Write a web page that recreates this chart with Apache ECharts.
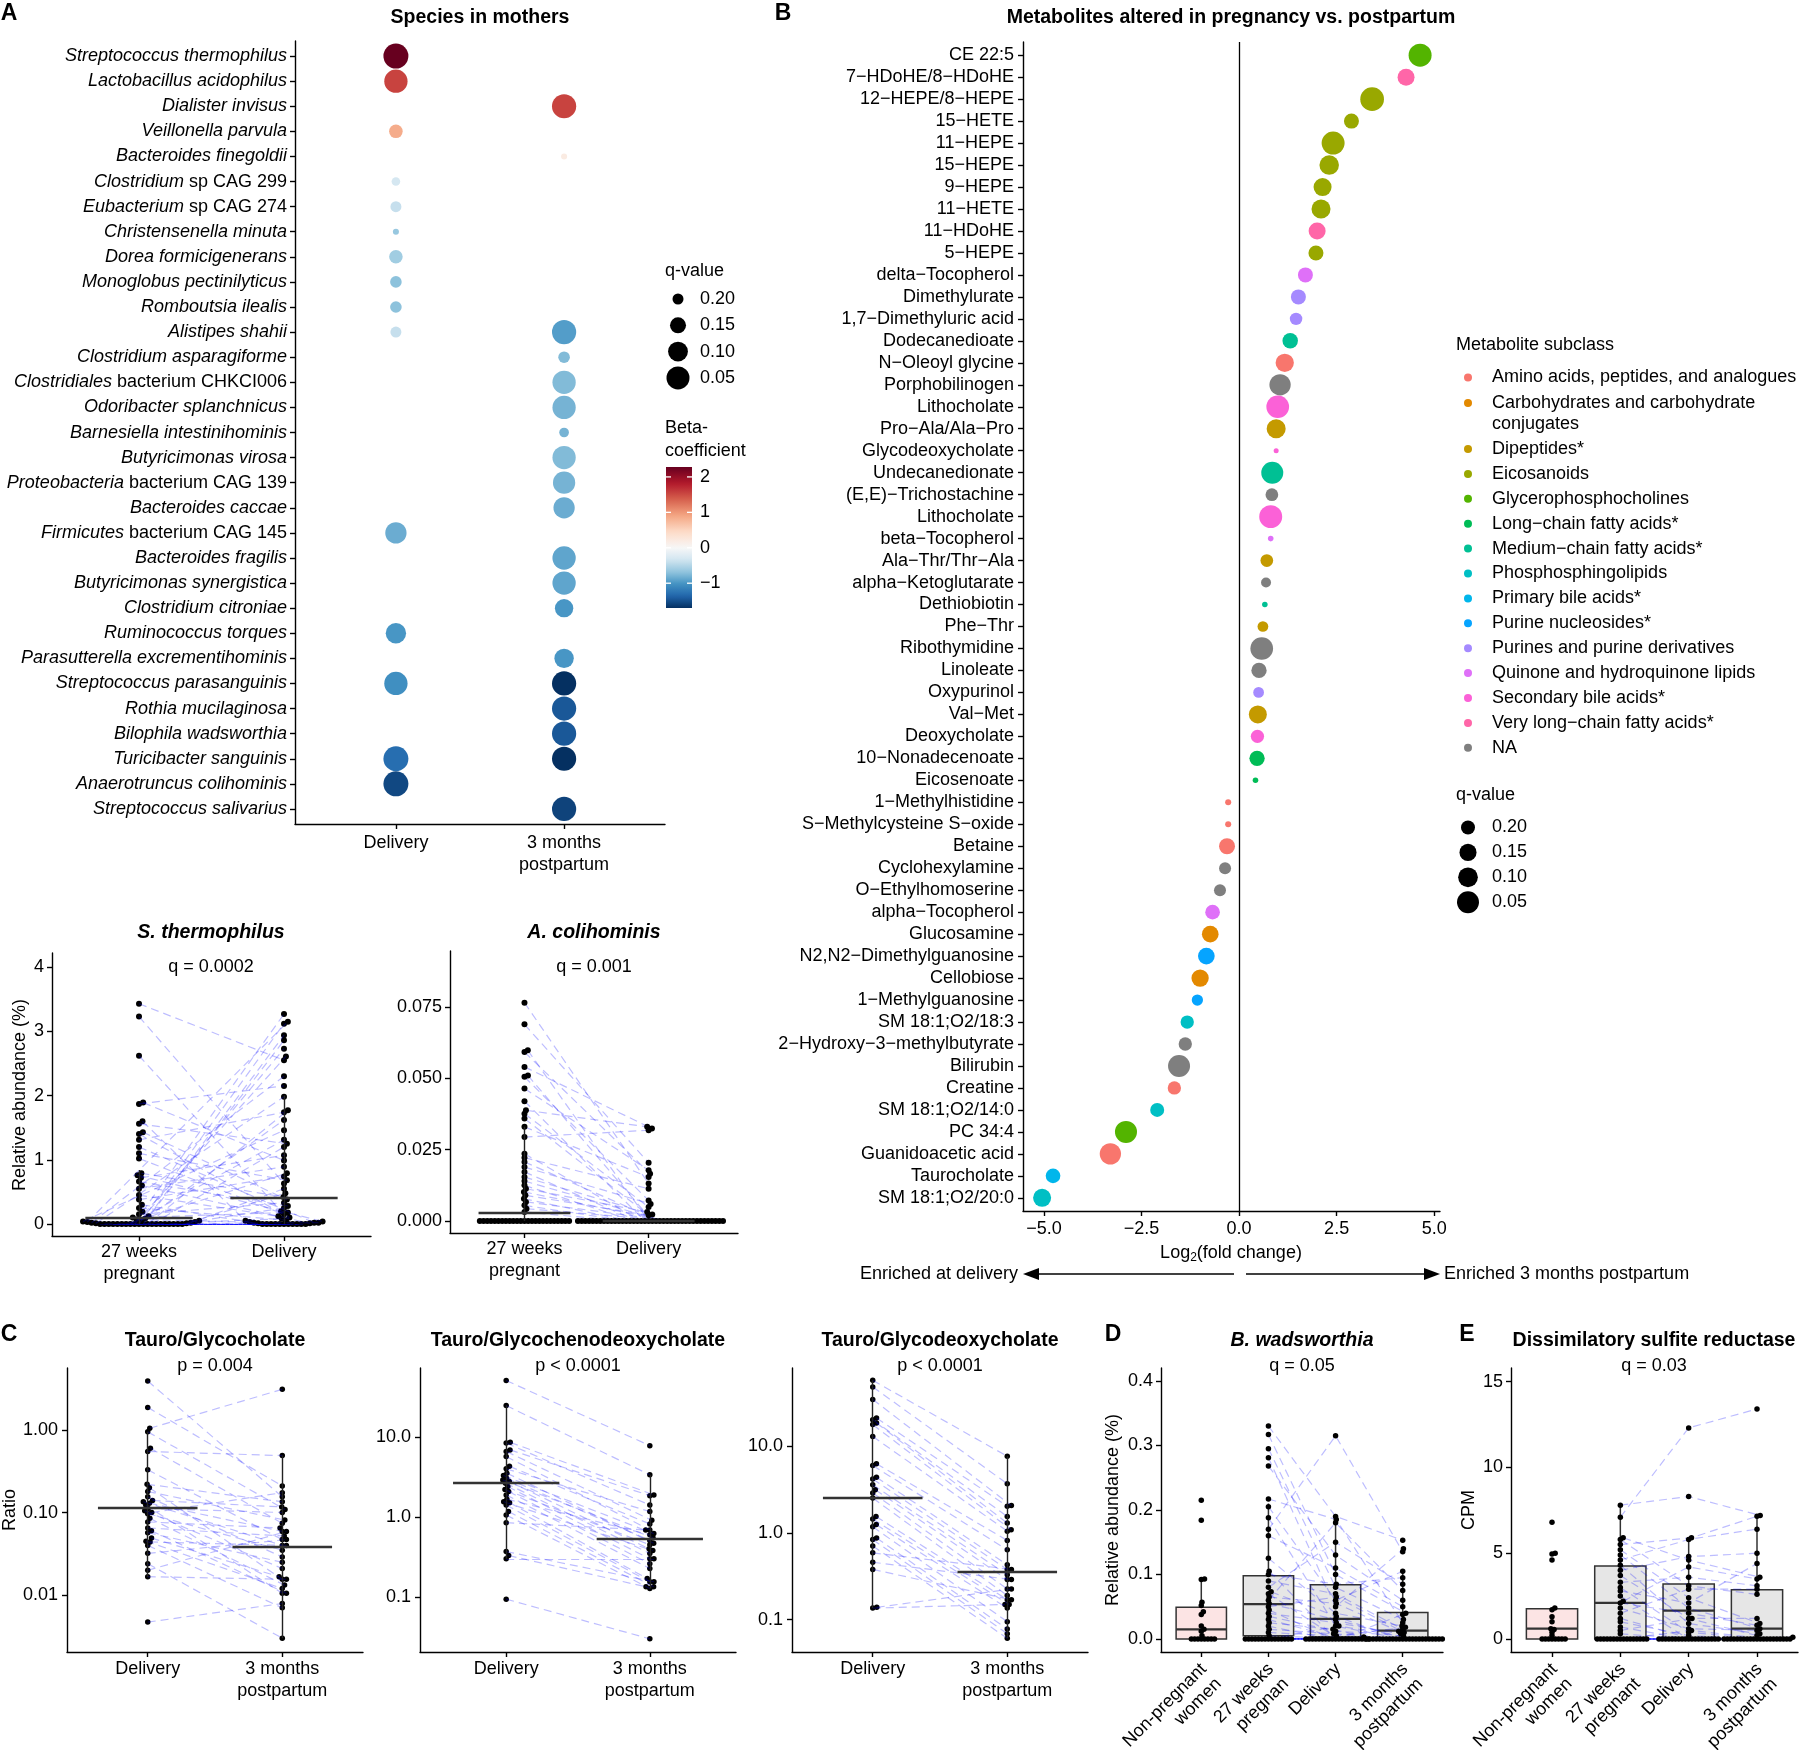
<!DOCTYPE html>
<html><head><meta charset="utf-8">
<script src="https://cdn.jsdelivr.net/npm/echarts@6/dist/echarts.min.js"></script>
<style>html,body{margin:0;padding:0;background:#fff}#c{width:1800px;height:1750px}</style>
</head><body><div id="c"></div><script>
// ---------------- DATA ----------------
// Panel A: species dot plot
const speciesItalic = ['Streptococcus thermophilus','Lactobacillus acidophilus','Dialister invisus','Veillonella parvula','Bacteroides finegoldii','Clostridium','Eubacterium','Christensenella minuta','Dorea formicigenerans','Monoglobus pectinilyticus','Romboutsia ilealis','Alistipes shahii','Clostridium asparagiforme','Clostridiales','Odoribacter splanchnicus','Barnesiella intestinihominis','Butyricimonas virosa','Proteobacteria','Bacteroides caccae','Firmicutes','Bacteroides fragilis','Butyricimonas synergistica','Clostridium citroniae','Ruminococcus torques','Parasutterella excrementihominis','Streptococcus parasanguinis','Rothia mucilaginosa','Bilophila wadsworthia','Turicibacter sanguinis','Anaerotruncus colihominis','Streptococcus salivarius'];
const speciesRoman = ['','','','','',' sp CAG 299',' sp CAG 274','','','','','','',' bacterium CHKCI006','','','',' bacterium CAG 139','',' bacterium CAG 145','','','','','','','','','','',''];
const speciesDeliveryBeta = [2.28,1.55,null,0.85,null,-0.3,-0.4,-0.65,-0.6,-0.7,-0.7,-0.4,null,null,null,null,null,null,null,-0.85,null,null,null,-1.0,null,-1.05,null,null,-1.3,-1.55,null];
const speciesDeliveryQ = [0.015,0.045,null,0.177,null,0.217,0.2,0.231,0.177,0.195,0.195,0.2,null,null,null,null,null,null,null,0.078,null,null,null,0.092,null,0.045,null,null,0.015,0.015,null];
const speciesPostBeta = [null,null,1.55,null,0.2,null,null,null,null,null,null,-0.95,-0.75,-0.75,-0.8,-0.8,-0.75,-0.8,-0.85,null,-0.9,-0.9,-1.0,null,-1.0,-1.7,-1.45,-1.45,-1.7,null,-1.58];
const speciesPostQ = [null,null,0.029,null,0.231,null,null,null,null,null,null,0.029,0.195,0.045,0.045,0.21,0.045,0.062,0.078,null,0.045,0.045,0.12,null,0.106,0.029,0.029,0.029,0.029,null,0.029];
const timepointsA = ['Delivery','3 months\npostpartum'];
const qLegendValues = [0.20, 0.15, 0.10, 0.05];
const betaTicks = [2, 1, 0, -1];

// Panel A bottom: S. thermophilus (paired, index-aligned)
const st27 = [3.43,3.23,2.62,1.89,1.87,1.6,1.56,1.43,1.4,1.31,1.2,1.1,1.02,0.79,0.76,0.72,0.66,0.6,0.55,0.45,0.38,0.3,0.25,0.19,0.15,0.12,0.1,0.08,0.07,0.06,0.05,0.04,0.03,0.03,0.02,0.02,0.01,0.01,0,0,0,0,0,0,0,0,0,0,0,0,0,0,0,0,0,0,0,0];
const stDel = [2.55,0.63,0.2,0.99,2.15,0.05,1.25,0.38,0.1,1.74,0.02,0.68,0.15,0.42,0.04,1.07,0.28,0.01,0.89,0.12,0.74,0.02,0.06,3.27,0.33,2.94,0.18,1.62,0.03,2.73,0.25,1.46,3.15,0.08,2.3,0.55,1.98,0.48,3.12,2.86,2.61,1.77,1.31,1.2,0.79,0,0,0,0,0,0,0,0,0.01,0.02,0,0,0];
const stMedian = [0.1, 0.41];
const stRange = [[0, 0.84], [0, 2.0]];
const stTicks = [0,1,2,3,4];
// A. colihominis
const ac27 = [0.0765,0.0689,0.0598,0.0592,0.054,0.051,0.0505,0.0464,0.042,0.0388,0.0376,0.0359,0.033,0.0294,0.0236,0.0222,0.0207,0.0189,0.0172,0.0154,0.014,0.0125,0.0113,0.0102,0.009,0.0078,0.0067,0.0055,0.0043,0.0032,0,0,0,0,0,0,0,0,0,0,0,0,0,0,0,0,0,0,0,0,0,0,0,0,0];
const acDel = [0.0131,0.0204,0,0.0166,0.0324,0,0.0072,0.0178,0,0.033,0.0049,0,0.0154,0.0318,0,0.0113,0,0.006,0,0.0023,0,0,0.0032,0,0.002,0,0,0,0,0,0,0,0,0,0,0,0,0,0,0,0,0,0,0,0,0,0,0,0,0,0,0,0,0,0];
const acMedian = [0.0028, 0];
const acRange = [[0, 0.033], [0, 0]];
const acTicks = [0, 0.025, 0.05, 0.075];
const pairLabels = ['27 weeks\npregnant', 'Delivery'];

// Panel B: metabolites
const metNames = ['CE 22:5','7−HDoHE/8−HDoHE','12−HEPE/8−HEPE','15−HETE','11−HEPE','15−HEPE','9−HEPE','11−HETE','11−HDoHE','5−HEPE','delta−Tocopherol','Dimethylurate','1,7−Dimethyluric acid','Dodecanedioate','N−Oleoyl glycine','Porphobilinogen','Lithocholate','Pro−Ala/Ala−Pro','Glycodeoxycholate','Undecanedionate','(E,E)−Trichostachine','Lithocholate','beta−Tocopherol','Ala−Thr/Thr−Ala','alpha−Ketoglutarate','Dethiobiotin','Phe−Thr','Ribothymidine','Linoleate','Oxypurinol','Val−Met','Deoxycholate','10−Nonadecenoate','Eicosenoate','1−Methylhistidine','S−Methylcysteine S−oxide','Betaine','Cyclohexylamine','O−Ethylhomoserine','alpha−Tocopherol','Glucosamine','N2,N2−Dimethylguanosine','Cellobiose','1−Methylguanosine','SM 18:1;O2/18:3','2−Hydroxy−3−methylbutyrate','Bilirubin','Creatine','SM 18:1;O2/14:0','PC 34:4','Guanidoacetic acid','Taurocholate','SM 18:1;O2/20:0'];
const metFC = [4.64,4.28,3.41,2.88,2.41,2.31,2.14,2.1,2.0,1.97,1.7,1.52,1.46,1.31,1.17,1.05,0.99,0.95,0.95,0.85,0.84,0.81,0.81,0.71,0.69,0.66,0.61,0.58,0.51,0.5,0.48,0.47,0.46,0.42,-0.28,-0.28,-0.31,-0.36,-0.49,-0.68,-0.74,-0.84,-1.0,-1.07,-1.33,-1.38,-1.54,-1.66,-2.1,-2.9,-3.3,-4.77,-5.05];
const metQ = [0.027,0.152,0.01,0.185,0.027,0.104,0.133,0.114,0.152,0.185,0.185,0.185,0.221,0.177,0.128,0.066,0.034,0.114,0.289,0.05,0.218,0.027,0.286,0.218,0.25,0.286,0.242,0.034,0.18,0.242,0.133,0.21,0.18,0.286,0.283,0.283,0.169,0.227,0.227,0.19,0.157,0.157,0.146,0.236,0.21,0.21,0.05,0.21,0.2,0.05,0.066,0.19,0.133];
const metClass = [4,13,3,3,3,3,3,3,13,3,11,10,10,6,0,14,12,2,12,6,14,12,11,2,14,6,2,14,14,10,2,12,5,5,0,0,0,14,14,11,1,9,1,9,7,14,14,0,7,4,0,8,7];
const subclassNames = ['Amino acids, peptides, and analogues','Carbohydrates and carbohydrate\nconjugates','Dipeptides*','Eicosanoids','Glycerophosphocholines','Long−chain fatty acids*','Medium−chain fatty acids*','Phosphosphingolipids','Primary bile acids*','Purine nucleosides*','Purines and purine derivatives','Quinone and hydroquinone lipids','Secondary bile acids*','Very long−chain fatty acids*','NA'];
const fcTicks = [-5, -2.5, 0, 2.5, 5];

// Panel C: bile acid ratios (paired)
const c1Del = [3.93,1.88,1.05,0.95,0.6,0.55,0.33,0.22,0.2,0.18,0.155,0.14,0.135,0.13,0.123,0.112,0.105,0.1,0.097,0.085,0.077,0.065,0.06,0.057,0.049,0.045,0.044,0.04,0.032,0.024,0.02,0.0167,0.0047];
const c1Post = [0.155,0.21,3.11,0.109,0.074,0.49,0.047,0.135,0.0155,0.081,0.029,0.117,0.04,0.059,0.0105,0.1,0.021,0.174,0.035,0.0132,0.065,0.052,0.0105,0.025,0.0167,0.012,0.04,0.007,0.047,0.003,0.059,0.0155,0.0079];
const c1Median = [0.115, 0.038];
const c1Range = [[0.0167, 0.95], [0.003, 0.49]];
const c2Del = [50.9,24.7,8.58,8.4,6.9,6.6,5.7,4.3,4.0,3.53,3.3,3.05,2.78,2.65,2.4,2.08,1.89,1.67,1.51,1.41,1.17,1.06,0.85,0.37,0.33,0.30,0.094,2.9,2.2,1.55];
const c2Post = [7.8,3.37,1.89,1.41,1.85,0.91,0.69,0.82,1.17,0.47,0.62,0.51,0.40,0.35,0.3,0.26,0.227,0.6,0.17,0.155,0.134,0.128,0.69,0.155,0.134,0.3,0.03,0.55,0.45,0.38];
const c2Median = [2.65, 0.535];
const c2Range = [[0.3, 24.7], [0.128, 3.37]];
const c3Del = [57.6,48.4,34.7,21.2,20.3,18.6,17.8,13.0,6.3,6.0,4.4,4.2,3.6,3.16,2.9,2.53,1.55,1.45,1.25,1.18,0.875,0.84,0.71,0.59,0.46,0.38,0.139,0.136];
const c3Post = [7.67,3.7,2.07,2.04,1.55,1.3,1.09,1.05,0.82,0.64,0.43,0.38,0.33,0.29,0.226,0.19,0.17,0.15,0.136,0.095,0.078,0.069,0.061,0.38,0.29,0.17,0.226,0.15];
const c3Median = [2.53, 0.36];
const c3Range = [[0.136, 57.6], [0.061, 7.67]];
const cLabels = ['Delivery', '3 months\npostpartum'];

// Panel D: B. wadsworthia
const dNon = [0.215,0.184,0.093,0.092,0.057,0.052,0.042,0.038,0.02,0.015,0.012,0.005,0,0,0,0,0,0,0,0];
const d27 = [0.33,0.317,0.295,0.281,0.268,0.217,0.205,0.188,0.17,0.16,0.125,0.105,0.1,0.09,0.08,0.073,0.07,0.065,0.06,0.055,0.05,0.045,0.04,0.035,0.03,0.025,0.02,0.015,0.01,0.005,0,0,0,0,0,0,0,0,0,0,0,0,0,0,0];
const dDel = [0.19,0.1,0.08,0.05,0.13,0.185,0.06,0.02,0.315,0.11,0.04,0,0.085,0.07,0.15,0.035,0,0.055,0.18,0.03,0.065,0,0.025,0.012,0,0.015,0,0.008,0.005,0,0.02,0,0,0,0,0,0,0,0,0,0,0,0,0,0];
const d3m = [0.153,0.04,0.03,0.14,0.06,0.025,0.105,0,0.135,0.05,0.02,0,0.095,0.015,0.085,0,0.038,0.012,0.075,0,0.01,0,0.008,0.005,0,0.003,0,0,0.018,0,0,0,0,0,0,0,0,0,0,0,0,0,0,0,0];
const dBox = [[0,0.015,0.049,0,0.093],[0.005,0.054,0.098,0,0.21],[0.003,0.031,0.084,0,0.185],[0,0.013,0.041,0,0.105]]; // q1, median, q3, low, high
const dTicks = [0,0.1,0.2,0.3,0.4];
const dLabels = ['Non-pregnant\nwomen','27 weeks\npregnan','Delivery','3 months\npostpartum'];
// Panel E: dissimilatory sulfite reductase
const eNon = [6.8,5.0,4.95,4.6,1.8,1.7,1.3,1.0,0.6,0.55,0.4,0.2,0,0,0,0,0,0,0,0];
const e27 = [7.8,7.1,5.9,5.8,5.5,5.2,4.9,4.6,4.3,4.0,3.7,3.3,3.0,2.8,2.5,2.2,2.1,1.8,1.5,1.2,1.0,0.7,0.5,0.3,0,0,0,0,0,0,0,0,0,0,0,0,0,0,0,0];
const eDel = [8.3,12.3,4.6,3.1,5.9,2.4,1.8,5.8,0.9,4.8,1.2,3.6,0.4,2.1,0,4.2,1.5,0.6,2.9,0,0.2,0,1.2,0,0.5,0,0,0,0,0,0,0,0,0,0,0,0,0,0,0];
const e3m = [7.2,13.4,3.6,2.6,7.15,0.9,0.6,6.4,0.3,5.0,0.2,3.1,0,4.4,0,3.5,0.8,0.5,2.9,0.1,0,0,1.2,0,0,0,0,0,0,0,0,0,0,0,0,0,0,0,0,0];
const eBox = [[0,0.6,1.76,0,1.8],[0,2.1,4.26,0,7.8],[0,1.65,3.2,0,5.9],[0,0.6,2.87,0,7.13]];
const eTicks = [0,5,10,15];
const eLabels = ['Non-pregnant\nwomen','27 weeks\npregnant','Delivery','3 months\npostpartum'];

// ---------------- STYLE / HELPERS ----------------
const FONT = "'Liberation Sans', Arial, Helvetica, sans-serif";
const BLACK = '#000';
const PALETTE = ['#F8766D','#E38900','#C49A00','#99A800','#53B400','#00BC56','#00C094','#00BFC4','#00B6EB','#06A4FF','#A58AFF','#DF70F8','#FB61D7','#FF66A8','#7F7F7F'];
const RED = ['#F7F7F7','#FDDBC7','#F4A582','#D6604D','#B2182B','#67001F'];
const BLUE = ['#F7F7F7','#D1E5F0','#92C5DE','#4393C3','#2166AC','#053061'];
const allBeta = speciesDeliveryBeta.concat(speciesPostBeta).filter(v => v != null);
const betaMin = Math.min.apply(null, allBeta), betaMax = Math.max.apply(null, allBeta);
function hex2rgb(h){ return [parseInt(h.slice(1,3),16), parseInt(h.slice(3,5),16), parseInt(h.slice(5,7),16)]; }
function mix(a, b, t){ const A = hex2rgb(a), B = hex2rgb(b); return 'rgb(' + A.map((v,i)=>Math.round(v+(B[i]-v)*t)).join(',') + ')'; }
function rdbu(b){ const arr = b >= 0 ? RED : BLUE; const t = Math.min(1, Math.abs(b) / (b >= 0 ? betaMax : -betaMin)); const s = t*5; const k = Math.min(4, Math.floor(s)); return mix(arr[k], arr[k+1], s-k); }
const sizeA = q => Math.sqrt(Math.max(16, 665 - 2720*q));
const sizeB = q => Math.sqrt(Math.max(16, 580 - 1920*q));
const L = v => Math.log10(v);

const grids = [], xAxes = [], yAxes = [], series = [], graphics = [];
function addGrid(l, t, w, h){ grids.push({left:l, top:t, width:w, height:h, containLabel:false}); return grids.length-1; }
function mkAxis(dir, gi, min, max, ticks, fmt, o){
  o = o || {};
  const a = { type:'value', gridIndex:gi, min:min, max:max, inverse:!!o.inverse,
    axisLine:{show:true, onZero:false, lineStyle:{color:BLACK, width:1.4}},
    axisTick:{show:true, inside:false, length:5, customValues:ticks, lineStyle:{color:BLACK, width:1.4}},
    axisLabel:{show:!o.noLabel, customValues:ticks, formatter:fmt, color:BLACK, fontSize:18, fontFamily:FONT,
      margin:(o.margin==null?8:o.margin), lineHeight:o.lineHeight||22, rotate:o.rotate||0},
    splitLine:{show:false}, splitArea:{show:false} };
  if (o.rich) a.axisLabel.rich = o.rich;
  const arr = dir === 'x' ? xAxes : yAxes; arr.push(a); return arr.length-1;
}
function text(x, y, s, o){
  o = o || {};
  const st = { text:s, fill:BLACK, fontSize:o.size||18, fontFamily:FONT, fontWeight:o.weight||'normal', fontStyle:o.style||'normal', align:o.align||'center', verticalAlign:o.valign||'middle' };
  if (o.lineHeight) st.lineHeight = o.lineHeight;
  if (o.rich) st.rich = o.rich;
  graphics.push({ type:'text', x:x, y:y, rotation:o.rotation||0, silent:true, z:100, style:st });
}
function pts(xi, yi, data, size, z){ series.push({type:'scatter', xAxisIndex:xi, yAxisIndex:yi, data:data, symbolSize:size, itemStyle:{color:BLACK, opacity:1}, silent:true, animation:false, clip:false, z:z||4}); }
function segs(xi, yi, coords, style, z, poly){ series.push({type:'lines', coordinateSystem:'cartesian2d', xAxisIndex:xi, yAxisIndex:yi, polyline:!!poly, data:coords.map(c=>({coords:c})), lineStyle:style, silent:true, animation:false, z:z||3}); }
const DASH = {color:'rgba(0,0,255,0.26)', width:1.2, type:[8,5], opacity:1};
const SUM = {color:'#333', width:2.4, type:'solid', opacity:1};
const WHISK = {color:'#222', width:1.4, type:'solid', opacity:1};

// beeswarm layout (deterministic): returns pixel offsets
function swarm(yPix, dot, gap){
  const minD = dot*gap, n = yPix.length;
  const order = yPix.map((v,i)=>i).sort((a,b)=> (yPix[a]-yPix[b]) || (a-b));
  const placed = [], xs = new Array(n);
  for (const i of order){
    const y = yPix[i]; const cands = [0];
    for (const p of placed){ const dy = Math.abs(p.y-y); if (dy < minD){ const dx = Math.sqrt(minD*minD-dy*dy); cands.push(p.x+dx+1e-4, p.x-dx-1e-4); } }
    cands.sort((a,b)=> (Math.abs(a)-Math.abs(b)) || (b-a));
    let ch = 0;
    for (const c of cands){ let ok = true; for (const p of placed){ const dx=p.x-c, dy=p.y-y; if (dx*dx+dy*dy < minD*minD-1e-3){ ok=false; break; } } if (ok){ ch=c; break; } }
    placed.push({x:ch, y:y}); xs[i] = ch;
  }
  return xs;
}
function swarmX(vals, tf, pxY, pxX, dot, gap, center){ return swarm(vals.map(v=>tf(v)*pxY), dot, gap).map(p => center + p/pxX); }
const id = v => v;

// ---------------- PANEL A (dot plot) ----------------
const gA = addGrid(295, 41, 370, 783);
const xA = mkAxis('x', gA, 0.4, 2.6, [1,2], v => timepointsA[Math.round(v)-1], {margin:8, lineHeight:22});
const richA = { i:{fontStyle:'italic', fontSize:18, fontFamily:FONT, color:BLACK}, n:{fontStyle:'normal', fontSize:18, fontFamily:FONT, color:BLACK} };
const yA = mkAxis('y', gA, 0.4, speciesItalic.length+0.6, speciesItalic.map((s,i)=>i+1), v => { const k = Math.round(v)-1; return '{i|' + speciesItalic[k] + '}' + (speciesRoman[k] ? '{n|' + speciesRoman[k] + '}' : ''); }, {inverse:true, margin:8, rich:richA});
const dotA = [];
speciesItalic.forEach((s,i)=>{
  if (speciesDeliveryBeta[i] != null) dotA.push([1, i+1, speciesDeliveryBeta[i], speciesDeliveryQ[i]]);
  if (speciesPostBeta[i] != null) dotA.push([2, i+1, speciesPostBeta[i], speciesPostQ[i]]);
});
series.push({type:'scatter', xAxisIndex:xA, yAxisIndex:yA, data:dotA, symbolSize:v=>sizeA(v[3]), itemStyle:{color:p=>rdbu(p.value[2]), opacity:1}, silent:true, animation:false});
text(9, 14, 'A', {size:23, weight:'bold'});
text(480, 18, 'Species in mothers', {size:19.5, weight:'bold'});
// q legend A
text(665, 271, 'q-value', {align:'left'});
qLegendValues.forEach((q,k)=>{ const y = 299 + k*26.3; graphics.push({type:'circle', shape:{cx:678, cy:y, r:sizeA(q)/2}, style:{fill:BLACK}, silent:true}); text(700, y, q.toFixed(2), {align:'left'}); });
text(665, 428, 'Beta-', {align:'left'});
text(665, 451, 'coefficient', {align:'left'});
// colorbar
const cbTop = 467, cbH = 141, cbX = 666, cbW = 26;
const stops = []; for (let i=0;i<=40;i++){ const v = betaMax - i/40*(betaMax-betaMin); stops.push({offset:i/40, color:rdbu(v)}); }
graphics.push({type:'rect', shape:{x:cbX, y:cbTop, width:cbW, height:cbH}, style:{fill:new echarts.graphic.LinearGradient(0,0,0,1,stops)}, silent:true});
betaTicks.forEach(b=>{ const y = cbTop + (betaMax-b)/(betaMax-betaMin)*cbH;
  graphics.push({type:'line', shape:{x1:cbX, y1:y, x2:cbX+5, y2:y}, style:{stroke:'#fff', lineWidth:1.3}, silent:true, z:101});
  graphics.push({type:'line', shape:{x1:cbX+cbW-5, y1:y, x2:cbX+cbW, y2:y}, style:{stroke:'#fff', lineWidth:1.3}, silent:true, z:101});
  text(700, y, (b<0?'−':'') + Math.abs(b), {align:'left'}); });

// ---------------- PANEL A bottom: paired panels ----------------
function pairedPanel(gi, xi, yi, v1, v2, tf, pxY, pxX, dot, gap, med, rng){
  const xa = swarmX(v1, tf, pxY, pxX, dot, gap, 1), xb = swarmX(v2, tf, pxY, pxX, dot, gap, 2);
  pts(xi, yi, v1.map((v,i)=>[xa[i], tf(v)]).concat(v2.map((v,i)=>[xb[i], tf(v)])), dot, 3);
  segs(xi, yi, v1.map((v,i)=>[[xa[i], tf(v)], [xb[i], tf(v2[i])]]), DASH, 4);
  segs(xi, yi, rng.map((r,k)=>[[k+1, tf(r[0])], [k+1, tf(r[1])]]), WHISK, 5);
  segs(xi, yi, med.map((m,k)=>[[k+1-0.37, tf(m)], [k+1+0.37, tf(m)]]), SUM, 6);
}
// S. thermophilus
const gST = addGrid(52, 953, 319, 283);
const stMin = -0.187, stMax = 4.22;
const xST = mkAxis('x', gST, 0.4, 2.6, [1,2], v => pairLabels[Math.round(v)-1], {margin:5, lineHeight:22});
const yST = mkAxis('y', gST, stMin, stMax, stTicks, v => String(v), {margin:8});
pairedPanel(gST, xST, yST, st27, stDel, id, 283/(stMax-stMin), 319/2.2, 6, 0.72, stMedian, stRange);
text(211, 933, 'S. thermophilus', {size:19.5, weight:'bold', style:'italic'});
text(211, 967, 'q = 0.0002');
text(20, 1095, 'Relative abundance (%)', {rotation:Math.PI/2});
// A. colihominis
const gAC = addGrid(450, 951, 288, 282);
const acMin = -0.0042, acMax = 0.0946;
const xAC = mkAxis('x', gAC, 0.4, 2.72, [1,2], v => pairLabels[Math.round(v)-1], {margin:5, lineHeight:22});
const yAC = mkAxis('y', gAC, acMin, acMax, acTicks, v => v.toFixed(3), {margin:8});
// zero-heavy panel: points drawn above the dashed pair lines
(function(){
  const pxY = 282/(acMax-acMin), pxX = 288/2.32;
  const xa = swarmX(ac27, id, pxY, pxX, 6, 0.62, 1), xb = swarmX(acDel, id, pxY, pxX, 6, 0.62, 2);
  segs(xAC, yAC, ac27.map((v,i)=>[[xa[i], v], [xb[i], acDel[i]]]).filter((c,i)=> !(ac27[i]===0 && acDel[i]===0)), DASH, 3);
  pts(xAC, yAC, ac27.map((v,i)=>[xa[i], v]).concat(acDel.map((v,i)=>[xb[i], v])), 6, 4);
  segs(xAC, yAC, acRange.map((r,k)=>[[k+1, r[0]], [k+1, r[1]]]), WHISK, 5);
  segs(xAC, yAC, acMedian.map((m,k)=>[[k+1-0.37, m], [k+1+0.37, m]]), SUM, 6);
})();
text(594, 933, 'A. colihominis', {size:19.5, weight:'bold', style:'italic'});
text(594, 967, 'q = 0.001');

// ---------------- PANEL B ----------------
const gB = addGrid(1023, 42, 417, 1169);
const xB = mkAxis('x', gB, -5.54, 5.15, fcTicks, v => (v<0?'−':'') + Math.abs(v).toFixed(1), {margin:7});
const yB = mkAxis('y', gB, 0.4, metNames.length+0.6, metNames.map((s,i)=>i+1), v => metNames[Math.round(v)-1], {inverse:true, margin:9});
segs(xB, yB, [[[0, 0.4], [0, metNames.length+0.6]]], {color:BLACK, width:1.3, type:'solid', opacity:1}, 1);
series.push({type:'scatter', xAxisIndex:xB, yAxisIndex:yB, data:metFC.map((f,i)=>[f, i+1, metQ[i], metClass[i]]), symbolSize:v=>sizeB(v[2]), itemStyle:{color:p=>PALETTE[p.value[3]], opacity:1}, silent:true, animation:false, z:3});
text(783, 14, 'B', {size:23, weight:'bold'});
text(1231, 18, 'Metabolites altered in pregnancy vs. postpartum', {size:19.5, weight:'bold'});
text(1231, 1253, 'Log{s|2}(fold change)', {rich:{s:{fontSize:12, fontFamily:FONT, fill:BLACK, padding:[9,0,0,0]}}});
// arrows
graphics.push({type:'line', shape:{x1:1234, y1:1274, x2:1036, y2:1274}, style:{stroke:BLACK, lineWidth:1.5}, silent:true});
graphics.push({type:'polygon', shape:{points:[[1023,1274],[1039,1268],[1039,1280]]}, style:{fill:BLACK}, silent:true});
graphics.push({type:'line', shape:{x1:1246, y1:1274, x2:1426, y2:1274}, style:{stroke:BLACK, lineWidth:1.5}, silent:true});
graphics.push({type:'polygon', shape:{points:[[1440,1274],[1424,1268],[1424,1280]]}, style:{fill:BLACK}, silent:true});
text(1018, 1274, 'Enriched at delivery', {align:'right'});
text(1444, 1274, 'Enriched 3 months postpartum', {align:'left'});
// legend B
text(1456, 345, 'Metabolite subclass', {align:'left'});
subclassNames.forEach((s,k)=>{
  const y = k===0 ? 377.5 : (k===1 ? 403 : 449 + (k-2)*24.9);
  graphics.push({type:'circle', shape:{cx:1468, cy:y, r:4}, style:{fill:PALETTE[k]}, silent:true});
  if (k===1) text(1492, y+10.5, s, {align:'left', lineHeight:21}); else text(1492, y, s, {align:'left'});
});
text(1456, 795, 'q-value', {align:'left'});
qLegendValues.forEach((q,k)=>{ const y = 827.5 + k*24.9; graphics.push({type:'circle', shape:{cx:1468, cy:y, r:sizeB(q)/2}, style:{fill:BLACK}, silent:true}); text(1492, y, q.toFixed(2), {align:'left'}); });

// ---------------- PANEL C ----------------
function logPanel(l, w, lo, hi, ticks, fmt, v1, v2, med, rng, title, ptxt){
  const gi = addGrid(l, 1368, w, 284);
  const xi = mkAxis('x', gi, 0.4, 2.6, [1,2], v => cLabels[Math.round(v)-1], {margin:6, lineHeight:22});
  const yi = mkAxis('y', gi, lo, hi, ticks, fmt, {margin:9});
  pairedPanel(gi, xi, yi, v1, v2, L, 284/(hi-lo), w/2.2, 5.5, 0.75, med, rng);
  text(l + w/2, 1341, title, {size:19.5, weight:'bold'});
  text(l + w/2, 1366, ptxt);
}
const c1Fmt = v => ({'-2':'0.01','-1':'0.10','0':'1.00'})[String(Math.round(v))];
const c2Fmt = v => ({'-1':'0.1','0':'1.0','1':'10.0'})[String(Math.round(v))];
logPanel(67, 296, -2.69, 0.7515, [-2,-1,0], c1Fmt, c1Del, c1Post, c1Median, c1Range, 'Tauro/Glycocholate', 'p = 0.004');
logPanel(420, 316, -1.6875, 1.8625, [-1,0,1], c2Fmt, c2Del, c2Post, c2Median, c2Range, 'Tauro/Glycochenodeoxycholate', 'p < 0.0001');
logPanel(792, 296, -1.3725, 1.903, [-1,0,1], c2Fmt, c3Del, c3Post, c3Median, c3Range, 'Tauro/Glycodeoxycholate', 'p < 0.0001');
text(9, 1335, 'C', {size:23, weight:'bold'});
text(10, 1510, 'Ratio', {rotation:Math.PI/2});

// ---------------- PANELS D, E ----------------
function boxPanel(l, w, lo, hi, ticks, fmt, labels, non, g2, g3, g4, boxes){
  const gi = addGrid(l, 1368, w, 284);
  const xi = mkAxis('x', gi, 0.4, 4.6, [1,2,3,4], v => labels[Math.round(v)-1], {noLabel:true});
  const yi = mkAxis('y', gi, lo, hi, ticks, fmt, {margin:8});
  series.push({type:'custom', xAxisIndex:xi, yAxisIndex:yi, data:boxes.map((b,i)=>[i+1].concat(b)), silent:true, animation:false, z:1,
    renderItem:(params, api)=>{
      const x = api.value(0), q1 = api.value(1), md = api.value(2), q3 = api.value(3), wl = api.value(4), wh = api.value(5), hw = 0.375;
      const tl = api.coord([x-hw, q3]), br = api.coord([x+hw, q1]);
      const c = (a)=>api.coord(a);
      const st = {stroke:'#333', lineWidth:1.5};
      return {type:'group', children:[
        {type:'line', shape:{x1:c([x,q3])[0], y1:c([x,q3])[1], x2:c([x,wh])[0], y2:c([x,wh])[1]}, style:st},
        {type:'line', shape:{x1:c([x,wl])[0], y1:c([x,wl])[1], x2:c([x,q1])[0], y2:c([x,q1])[1]}, style:st},
        {type:'rect', shape:{x:tl[0], y:tl[1], width:br[0]-tl[0], height:br[1]-tl[1]}, style:{fill: params.dataIndex===0 ? '#FCE4E4' : '#E6E6E6', stroke:'#333', lineWidth:1.5}},
        {type:'line', shape:{x1:c([x-hw,md])[0], y1:c([x-hw,md])[1], x2:c([x+hw,md])[0], y2:c([x+hw,md])[1]}, style:{stroke:'#333', lineWidth:2.2}}
      ]};
    }});
  const pxY = 284/(hi-lo), pxX = w/4.2;
  const x1 = swarmX(non, id, pxY, pxX, 5.5, 0.6, 1), x2 = swarmX(g2, id, pxY, pxX, 5.5, 0.6, 2), x3 = swarmX(g3, id, pxY, pxX, 5.5, 0.6, 3), x4 = swarmX(g4, id, pxY, pxX, 5.5, 0.6, 4);
  segs(xi, yi, g2.map((v,i)=>[[x2[i], v], [x3[i], g3[i]], [x4[i], g4[i]]]), DASH, 3, true);
  pts(xi, yi, non.map((v,i)=>[x1[i],v]).concat(g2.map((v,i)=>[x2[i],v]), g3.map((v,i)=>[x3[i],v]), g4.map((v,i)=>[x4[i],v])), 5.5, 4);
  // rotated category labels (top-right corner anchored just below each tick)
  labels.forEach((s,k)=>{ const tx = l + (k+1-0.4)*pxX; text(tx-5, 1652+7, s, {rotation:Math.PI/4, align:'right', valign:'top', lineHeight:21}); });
  return gi;
}
boxPanel(1161, 282, -0.0202, 0.42, dTicks, v => v.toFixed(1), dLabels, dNon, d27, dDel, d3m, dBox);
text(1113, 1335, 'D', {size:23, weight:'bold'});
text(1302, 1341, 'B. wadsworthia', {size:19.5, weight:'bold', style:'italic'});
text(1302, 1366, 'q = 0.05');
text(1113, 1510, 'Relative abundance (%)', {rotation:Math.PI/2});
boxPanel(1511, 287, -0.758, 15.79, eTicks, v => String(v), eLabels, eNon, e27, eDel, e3m, eBox);
text(1467, 1335, 'E', {size:23, weight:'bold'});
text(1654, 1341, 'Dissimilatory sulfite reductase', {size:19.5, weight:'bold'});
text(1654, 1366, 'q = 0.03');
text(1469, 1510, 'CPM', {rotation:Math.PI/2});

// ---------------- RENDER ----------------
const chart = echarts.init(document.getElementById('c'), null, {renderer:'canvas', width:1800, height:1750});
chart.setOption({animation:false, backgroundColor:'#fff', grid:grids, xAxis:xAxes, yAxis:yAxes, series:series, graphic:{elements:graphics}});
</script></body></html>
